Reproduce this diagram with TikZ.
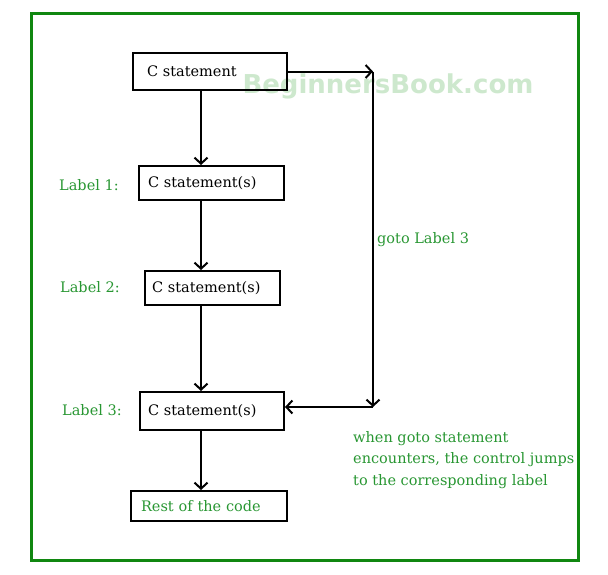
\documentclass[tikz,border=0pt]{standalone}
\usepackage{fontspec}
\setmainfont{DejaVu Serif}
\newfontfamily\markfont{DejaVu Sans}
\usetikzlibrary{arrows.meta}
\definecolor{framegreen}{RGB}{16,135,16}
\definecolor{labelgreen}{RGB}{40,150,50}
\definecolor{markgreen}{RGB}{205,232,205}

\begin{document}
\begin{tikzpicture}[x=1pt,y=-1pt,
    stmt/.style={draw,line width=2pt,inner ysep=0pt,align=left,
      font=\fontsize{14.5}{17}\selectfont},
    arr/.style={line width=2pt,-{Straight Barb[length=6pt,width=13pt]}},
    tag/.style={text=labelgreen,inner sep=0pt,font=\fontsize{14.5}{21.5}\selectfont}]
    \useasboundingbox (0,0) rectangle (608,574);
    % frame
    \draw[line width=3pt,framegreen] (31,13) rectangle (578,560);
    % watermark
    \node[text=markgreen,inner sep=0pt,font=\markfont\bfseries\fontsize{26}{30}\selectfont]
        (mark) at (388,86) {BeginnersBook.com};
    % statements
    \node[stmt,inner xsep=14pt,text width=126pt,minimum height=37pt] (first) at (210,71.5) {C statement};
    \node[stmt,inner xsep=9pt,text width=127pt,minimum height=34pt] (one) at (211.5,183) {C statement(s)};
    \node[stmt,inner xsep=7pt,text width=121pt,minimum height=34pt] (two) at (212.5,288) {C statement(s)};
    \node[stmt,inner xsep=8pt,text width=128pt,minimum height=38pt] (three) at (212,411) {C statement(s)};
    \node[stmt,inner xsep=10pt,text width=136pt,minimum height=30pt,text=labelgreen] (rest) at (209,506) {Rest of the code};
    % labels
    \node[tag,anchor=west] (lab1) at (59,185) {Label 1:};
    \node[tag,anchor=west] (lab2) at (60,287) {Label 2:};
    \node[tag,anchor=west] (lab3) at (62,410) {Label 3:};
    \node[tag,anchor=west] (jump) at (377,240) {goto Label 3};
    \node[tag,anchor=north west,align=left] (note) at (353,431)
        {when goto statement\\encounters, the control jumps\\to the corresponding label};
    % flow
    \coordinate (spine) at (201,0);
    \draw[arr] (first.south -| spine) -- (one.north -| spine);
    \draw[arr] (one.south -| spine) -- (two.north -| spine);
    \draw[arr] (two.south -| spine) -- (three.north -| spine);
    \draw[arr] (three.south -| spine) -- (rest.north -| spine);
    % goto
    \coordinate (top) at (373,71.5);
    \coordinate (bend) at (373,407);
    \draw[arr] (first.east) -- (top);
    \draw[arr] (top) -- (bend);
    \draw[arr] (bend) -- (bend -| three.east);
\end{tikzpicture}
\end{document}
